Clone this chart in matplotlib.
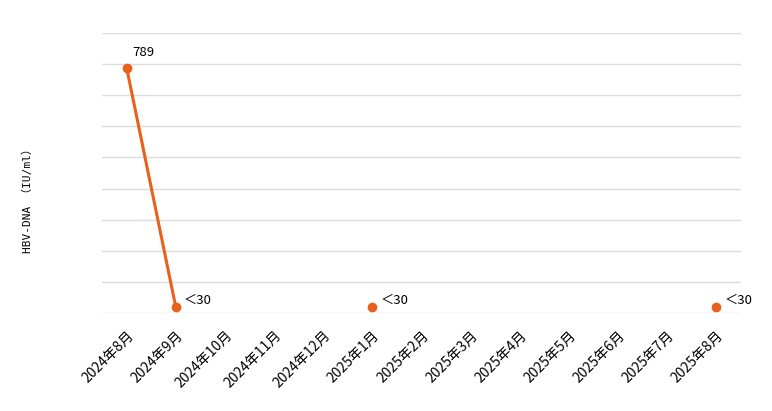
import matplotlib
matplotlib.use("Agg")
import matplotlib.pyplot as plt
import numpy as np

plt.rcParams['font.family'] = ['Noto Sans CJK SC', 'DejaVu Sans']

months = ["2024年8月", "2024年9月", "2024年10月", "2024年11月", "2024年12月",
          "2025年1月", "2025年2月", "2025年3月", "2025年4月", "2025年5月",
          "2025年6月", "2025年7月", "2025年8月"]
values = [789, 20, None, None, None, 20, None, None, None, None, None, None, 20]
labels = ["789", "＜30", "", "", "", "＜30", "", "", "", "", "", "", "＜30"]
y_label = "HBV-DNA （IU/ml）"

color = "#E8601C"

fig = plt.figure(figsize=(7.72, 4.11), dpi=100)
ax = fig.add_axes([102/772, (411-313)/411, (741-102)/772, 280/411])

x = np.arange(len(months))
y = np.array([np.nan if v is None else v for v in values], dtype=float)
ax.plot(x, y, color=color, lw=2.2, marker='o', ms=6, zorder=3, clip_on=False)

for xi, yi, lab in zip(x, y, labels):
    if np.isnan(yi) or not lab:
        continue
    if lab == "789":
        ax.annotate(lab, (xi, yi), xytext=(4, 6), textcoords='offset points',
                    fontsize=9.5, ha='left', va='bottom', color='black')
    else:
        ax.annotate(lab, (xi, yi), xytext=(6, 0), textcoords='offset points',
                    fontsize=9.5, ha='left', va='bottom', color='black')

ax.set_xlim(-0.5, len(months) - 0.5)
ax.set_ylim(0, 900)
ax.set_yticks(np.arange(0, 901, 100))
ax.set_yticklabels([])
ax.tick_params(axis='y', length=0)
ax.grid(axis='y', color='#dcdcdc', lw=1)
ax.set_axisbelow(True)
for s in ax.spines.values():
    s.set_visible(False)

ax.set_xticks(x)
ax.set_xticklabels(months, rotation=45, ha='right', rotation_mode='anchor', fontsize=10)
ax.tick_params(axis='x', length=0, pad=11)

fig.text(28/772, 1 - 198/411, y_label, rotation=90, ha='center', va='center',
         family=['DejaVu Sans Mono', 'Noto Sans CJK SC'], fontsize=8)

fig.savefig("out.png", dpi=100)
